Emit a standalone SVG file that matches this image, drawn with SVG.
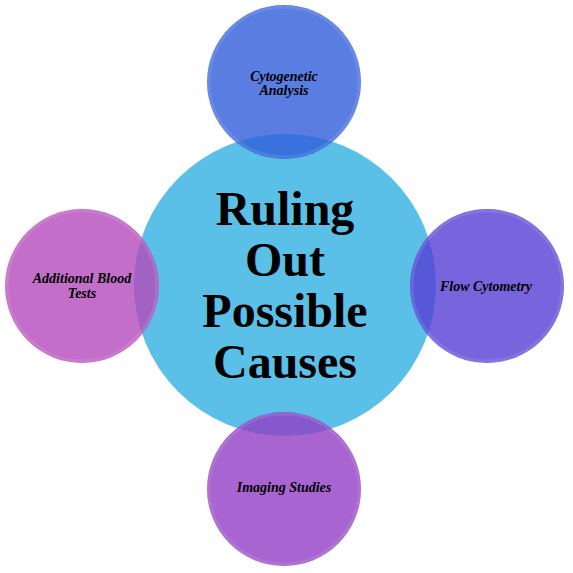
<svg xmlns="http://www.w3.org/2000/svg" width="573" height="573" viewBox="0 0 573 573">
<style>
.main{font-family:"Liberation Serif","Times New Roman",serif;font-weight:bold;font-size:48px;fill:#000;text-anchor:middle}
.lbl{font-family:"Liberation Serif","Times New Roman",serif;font-weight:bold;font-style:italic;font-size:14px;fill:#000;text-anchor:middle}
.sat{opacity:0.8}
.rim{fill:none;stroke:#ffffff;stroke-opacity:0.1;stroke-width:3}
</style>
<rect width="573" height="573" fill="#ffffff"/>
<g id="connectors"/>
<g id="center">
<circle cx="285" cy="285" r="151" fill="#5BC0E8"/>
<text class="main" x="285" y="225">Ruling</text>
<text class="main" x="285" y="276">Out</text>
<text class="main" x="285" y="327">Possible</text>
<text class="main" x="285" y="378">Causes</text>
</g>
<g id="top">
<circle cx="284" cy="82" r="77" fill="#315CD9" class="sat"/>
<circle cx="284" cy="82" r="75" class="rim"/>
<text class="lbl" x="284" y="81">Cytogenetic</text>
<text class="lbl" x="284" y="95">Analysis</text>
</g>
<g id="right">
<circle cx="487" cy="286" r="77" fill="#563DD3" class="sat"/>
<circle cx="487" cy="286" r="75" class="rim"/>
<text class="lbl" x="486" y="291">Flow Cytometry</text>
</g>
<g id="bottom">
<circle cx="284" cy="489" r="77" fill="#923DC4" class="sat"/>
<circle cx="284" cy="489" r="75" class="rim"/>
<text class="lbl" x="284" y="492">Imaging Studies</text>
</g>
<g id="left">
<circle cx="82" cy="286" r="77" fill="#B44ABA" class="sat"/>
<circle cx="82" cy="286" r="75" class="rim"/>
<text class="lbl" x="82" y="283">Additional Blood</text>
<text class="lbl" x="82" y="298">Tests</text>
</g>
</svg>
